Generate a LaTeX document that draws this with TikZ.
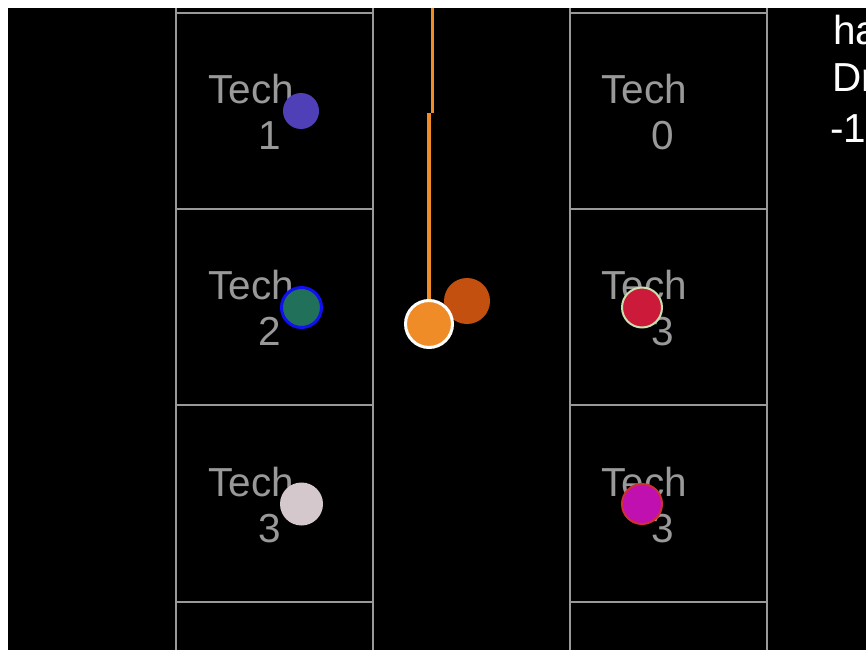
\documentclass[tikz,border=0pt]{standalone}
\usepackage{fontspec}
\setmainfont{Liberation Sans}
\begin{document}
\begin{tikzpicture}[x=1pt,y=-1pt,
  gridline/.style={draw=gray!80, line width=2.6pt},
  techtxt/.style={text=gray!80, font=\fontsize{40.5}{48}\selectfont, inner sep=0pt, anchor=base west},
  sidetxt/.style={text=white, font=\fontsize{40.5}{48}\selectfont, inner sep=0pt, anchor=base west},
  dot/.style={circle, inner sep=0pt, draw=none}]
\useasboundingbox (0,0) rectangle (866,650);
\fill[white] (0,0) rectangle (866,650);
\fill[black] (8,8) rectangle (866,650);
\begin{scope}
\clip (8,8) rectangle (866,650);
% grid
\foreach \gx in {176,373,570,767} \draw[gridline] (\gx,8) -- (\gx,650);
\foreach \gy in {13,209,405,602} {
  \draw[gridline] (176,\gy) -- (373,\gy);
  \draw[gridline] (570,\gy) -- (767,\gy);
}
% labels
\node[techtxt] (t1) at (208,103) {Tech};
\node[techtxt] (n1) at (258,149) {1};
\node[techtxt] (t2) at (208,299) {Tech};
\node[techtxt] (n2) at (258,345) {2};
\node[techtxt] (t3) at (208,496) {Tech};
\node[techtxt] (n3) at (258,542) {3};
\node[techtxt] (t4) at (601,103) {Tech};
\node[techtxt] (n4) at (651,149) {0};
\node[techtxt] (t5) at (601,299) {Tech};
\node[techtxt] (n5) at (651,345) {3};
\node[techtxt] (t6) at (601,496) {Tech};
\node[techtxt] (n6) at (651,542) {3};
% side text (cut off by the picture edge, as in the reference)
\node[sidetxt] (s1) at (833,45) {ha};
\node[sidetxt] (s2) at (832,92) {Dr};
\node[sidetxt] (s3) at (830,142) {-1};
% dots
\node[dot, fill={rgb,255:red,80;green,64;blue,184}, minimum size=36pt] (d1) at (301,111) {};
\node[dot, fill={rgb,255:red,32;green,112;blue,90}, draw={rgb,255:red,16;green,16;blue,240}, line width=3pt, minimum size=40pt] (d2) at (301.5,307.5) {};
\node[dot, fill={rgb,255:red,212;green,200;blue,204}, minimum size=43pt] (d3) at (301.5,504) {};
\node[dot, fill={rgb,255:red,204;green,26;blue,58}, draw={rgb,255:red,200;green,224;blue,176}, line width=2pt, minimum size=40pt] (d4) at (642,307.5) {};
\node[dot, fill={rgb,255:red,192;green,16;blue,176}, draw={rgb,255:red,208;green,48;blue,48}, line width=2pt, minimum size=40pt] (d5) at (642,504) {};
\node[dot, fill={rgb,255:red,196;green,80;blue,16}, minimum size=46pt] (d6) at (467,301) {};
% orange line and dot
\coordinate (la) at (432.5,8);
\coordinate (lb) at (432.5,113);
\coordinate (lc) at (429,113);
\node[dot, fill={rgb,255:red,240;green,140;blue,40}, draw=white, line width=3pt, minimum size=47pt] (d7) at (429,324) {};
\draw[draw={rgb,255:red,240;green,140;blue,40}, line width=3pt] (la) -- (lb);
\draw[draw={rgb,255:red,240;green,140;blue,40}, line width=3.5pt] (lc) -- (d7.north);
\end{scope}
\end{tikzpicture}
\end{document}
